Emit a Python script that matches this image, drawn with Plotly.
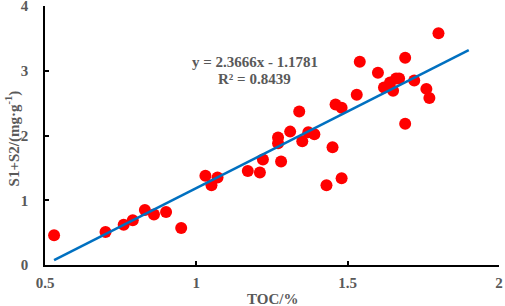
import plotly.graph_objects as go

toc = [0.53, 0.70, 0.76, 0.79, 0.83, 0.86, 0.90, 0.95, 1.03, 1.05, 1.07,
       1.17, 1.21, 1.22, 1.28, 1.27, 1.27, 1.31, 1.34, 1.35, 1.37, 1.39,
       1.43, 1.45, 1.48, 1.46, 1.48, 1.53, 1.54, 1.60, 1.62, 1.64, 1.65,
       1.66, 1.67, 1.69, 1.69, 1.72, 1.76, 1.77, 1.80]
s1s2 = [0.46, 0.51, 0.62, 0.69, 0.85, 0.78, 0.82, 0.57, 1.38, 1.23, 1.35,
        1.45, 1.43, 1.63, 1.60, 1.97, 1.88, 2.06, 2.37, 1.91, 2.05, 2.02,
        1.23, 1.82, 1.34, 2.48, 2.43, 2.63, 3.14, 2.97, 2.74, 2.82, 2.69,
        2.88, 2.88, 3.20, 2.18, 2.85, 2.72, 2.58, 3.58]

slope = 2.3666
intercept = -1.1781
r2 = 0.8439
trend_x = [0.53, 1.90]
trend_y = [slope * v + intercept for v in trend_x]

x_ticks = [0.5, 1, 1.5, 2]
x_tick_text = ["0.5", "1", "1.5", "2"]
y_ticks = [0, 1, 2, 3, 4]

FONT = "Liberation Serif"
GREY = "#595959"

fig = go.Figure()
fig.add_trace(go.Scatter(x=toc, y=s1s2, mode="markers",
                         marker=dict(color="#FF0000", size=12, line=dict(width=0)),
                         showlegend=False, cliponaxis=False))
fig.add_trace(go.Scatter(x=trend_x, y=trend_y, mode="lines",
                         line=dict(color="#0070C0", width=2.5),
                         showlegend=False))

fig.add_annotation(x=1.193, y=3.14, xref="x", yref="y", showarrow=False,
                   text=f"<b>y = {slope}x - {abs(intercept)}</b>",
                   font=dict(family=FONT, size=15, color=GREY))
fig.add_annotation(x=1.193, y=2.88, xref="x", yref="y", showarrow=False,
                   text=f"<b>R² = {r2}</b>",
                   font=dict(family=FONT, size=15, color=GREY))

# axis titles
fig.add_annotation(x=0.5, y=-0.131, xref="paper", yref="paper", showarrow=False,
                   text="<b>TOC/%</b>", xanchor="center", yanchor="middle",
                   font=dict(family=FONT, size=15, color=GREY))
fig.add_annotation(x=-0.072, y=0.49, xref="paper", yref="paper", showarrow=False,
                   text="<b>S1+S2/(mg·g<sup>-1</sup>)</b>", textangle=-90,
                   xanchor="center", yanchor="middle",
                   font=dict(family=FONT, size=15, color=GREY))

axis_common = dict(showgrid=False, zeroline=False, showline=True,
                   linecolor="black", linewidth=1.5, ticks="inside",
                   ticklen=4, tickwidth=1.5, tickcolor="black", automargin=False,
                   ticklabeloverflow="allow",
                   tickfont=dict(family=FONT, size=15, color=GREY))

fig.update_xaxes(range=[0.5, 2], tickvals=x_ticks, ticktext=[f"<b>{t}</b>" for t in x_tick_text],
                 ticklabelstandoff=3, **axis_common)
fig.update_yaxes(range=[0, 4], tickvals=y_ticks, ticktext=[f"<b>{t}</b>" for t in y_ticks],
                 ticklabelstandoff=12, **axis_common)

fig.update_layout(width=505, height=306, margin=dict(l=45, r=6, t=6, b=41),
                  plot_bgcolor="white", paper_bgcolor="white")

fig.write_html("out.html", config={"displayModeBar": False},
               post_script="document.body.style.margin='0';document.body.style.overflow='hidden';")
